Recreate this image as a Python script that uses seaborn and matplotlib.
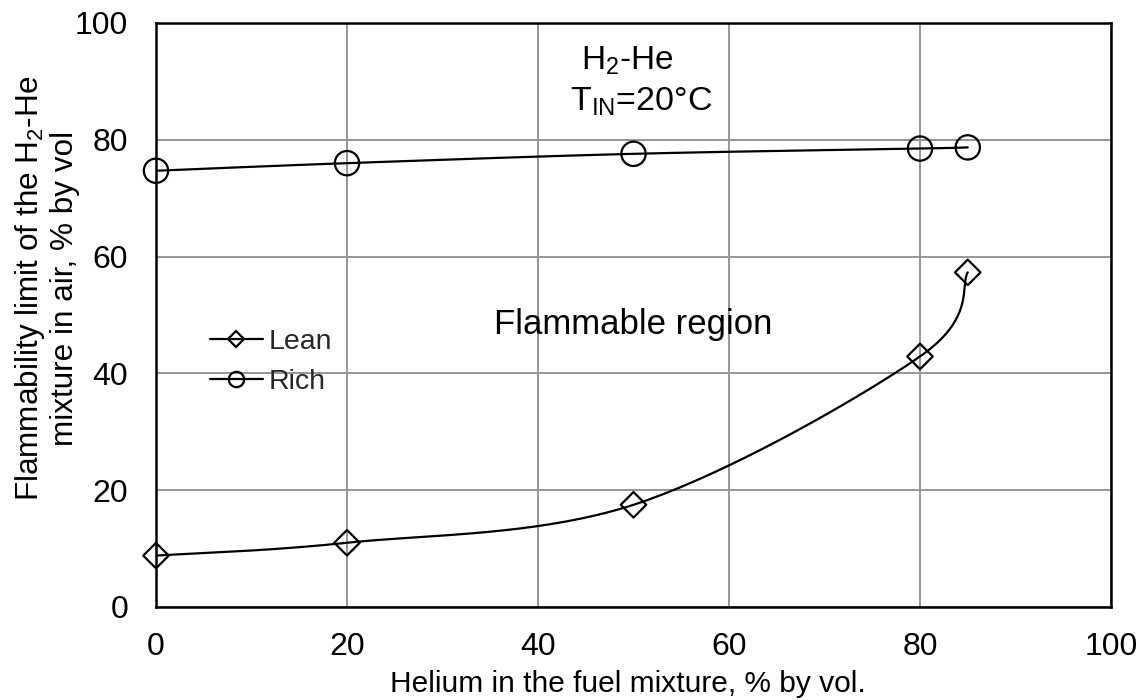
import numpy as np
import matplotlib
matplotlib.use("Agg")
import matplotlib.pyplot as plt
import seaborn as sns
from matplotlib.lines import Line2D

helium = [0, 20, 50, 80, 85]
lean = [8.8, 11.0, 17.5, 42.9, 57.3]
rich = [74.7, 76.0, 77.6, 78.5, 78.7]
xticks = [0, 20, 40, 60, 80, 100]
yticks = [0, 20, 40, 60, 80, 100]

sns.set_theme(style="whitegrid")
plt.rcParams['font.family'] = ['Liberation Sans', 'DejaVu Sans']
plt.rcParams['mathtext.fontset'] = 'custom'
plt.rcParams['mathtext.rm'] = 'Liberation Sans'
plt.rcParams['mathtext.it'] = 'Liberation Sans:italic'
plt.rcParams['mathtext.default'] = 'regular'

fig = plt.figure(figsize=(11.43, 7.0), dpi=100)
ax = fig.add_axes([156/1143, 1-607/700, (1111-156)/1143, (607-23)/700])
ax.set_facecolor('white')


def smooth(xs, ys, n=40):
    # Excel-like Bezier smoothing (Catmull-Rom control points)
    P = np.column_stack([xs, ys]).astype(float)
    out = []
    m = len(P)
    for i in range(m - 1):
        p0 = P[i - 1] if i > 0 else P[i]
        p1 = P[i]
        p2 = P[i + 1]
        p3 = P[i + 2] if i + 2 < m else P[i + 1]
        c1 = p1 + (p2 - p0) / 6.0
        c2 = p2 - (p3 - p1) / 6.0
        t = np.linspace(0, 1, n)[:, None]
        seg = ((1 - t) ** 3) * p1 + 3 * ((1 - t) ** 2) * t * c1 + 3 * (1 - t) * t ** 2 * c2 + t ** 3 * p2
        out.append(seg if i == 0 else seg[1:])
    s = np.vstack(out)
    return s[:, 0], s[:, 1]

for ys in (lean, rich):
    sx, sy = smooth(helium, ys)
    ax.plot(sx, sy, color='black', lw=1.6, zorder=3)

sns.scatterplot(x=helium, y=lean, marker='D', s=13**2, facecolor='none',
                edgecolor='black', linewidth=1.6, ax=ax, zorder=4, clip_on=False)
sns.scatterplot(x=helium, y=rich, marker='o', s=17.5**2, facecolor='none',
                edgecolor='black', linewidth=1.6, ax=ax, zorder=4, clip_on=False)

ax.set_xlim(0, 100)
ax.set_ylim(0, 100)
ax.set_xticks(xticks)
ax.set_yticks(yticks)
ax.set_xticklabels([str(v) for v in xticks])
ax.set_yticklabels([str(v) for v in yticks])
ax.grid(True, color='#969696', lw=1.4)
for sp in ax.spines.values():
    sp.set_color('black')
    sp.set_linewidth(1.8)
    sp.set_visible(True)
ax.tick_params(axis='both', direction='out', length=6, width=1.2, color='black',
               labelsize=23, labelcolor='black')
ax.tick_params(axis='y', pad=14)
ax.tick_params(axis='x', pad=12)

ax.set_xlabel('Helium in the fuel mixture, % by vol.', fontsize=21.5, color='black')
ax.xaxis.set_label_coords(0.494, -0.108)
ax.set_ylabel('Flammability limit of the H$_2$-He\nmixture in air, % by vol',
              fontsize=22.7, color='black', linespacing=1.1)
ax.yaxis.set_label_coords(-0.08, 0.545)

ax.text(50, 48.3, 'Flammable region', fontsize=25, ha='center', va='center', color='black')
ax.text(49.4, 93.5, 'H$_2$-He', fontsize=24, ha='center', va='center', color='black')
ax.text(50.8, 86.5, 'T$_{IN}$=20°C', fontsize=24.5, ha='center', va='center', color='black')

handles = [
    Line2D([], [], color='black', lw=1.6, marker='D', markersize=8, markerfacecolor='none',
           markeredgecolor='black', markeredgewidth=1.6),
    Line2D([], [], color='black', lw=1.6, marker='o', markersize=11, markerfacecolor='none',
           markeredgecolor='black', markeredgewidth=1.6),
]
ax.legend(handles, ['Lean', 'Rich'], loc='center left', bbox_to_anchor=(0.0565, 0.4195),
          frameon=False, fontsize=20.5, handlelength=1.85, handletextpad=0.22,
          labelspacing=0.5, borderaxespad=0, borderpad=0)

fig.savefig('out.png', dpi=100, facecolor='white')
